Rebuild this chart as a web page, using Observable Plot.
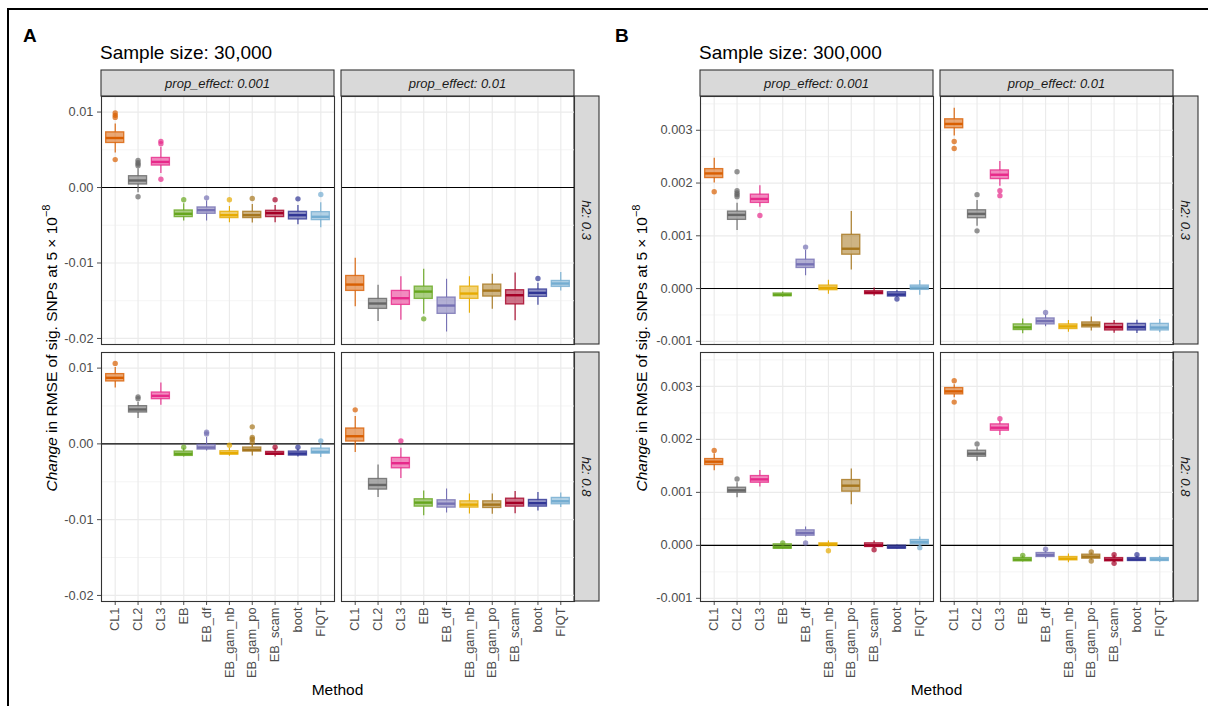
<!DOCTYPE html>
<html><head><meta charset="utf-8">
<script src="https://cdn.jsdelivr.net/npm/d3@7"></script>
<script src="https://cdn.jsdelivr.net/npm/@observablehq/plot@0.6"></script>
<style>
html,body{margin:0;padding:0;background:#fff;}
#root{position:relative;width:1208px;height:706px;overflow:hidden;font-family:"Liberation Sans",Arial,sans-serif;background:#fff;}
#root svg{position:absolute;}
</style></head><body><div id="root"></div>
<script>
// ---------------- data ----------------
const methods = ["CL1","CL2","CL3","EB","EB_df","EB_gam_nb","EB_gam_po","EB_scam","boot","FIQT"];
const methodColors = ["#d95f02","#666666","#e7298a","#66a61e","#7570b3","#e6ab02","#a6761d","#a50026","#313695","#74add1"];
const propEffects = ["prop_effect: 0.001","prop_effect: 0.01"];
const h2Levels = ["h2: 0.3","h2: 0.8"];
const panelTitles = ["Sample size: 30,000","Sample size: 300,000"];
const panelTags = ["A","B"];
const ticksA = [-0.02,-0.01,0,0.01];
const minorA = [-0.015,-0.005,0.005];
const ticksB = [-0.001,0,0.001,0.002,0.003];
const minorB = [-0.0005,0.0005,0.0015,0.0025,0.0035];

// box stats: [lower whisker, q1, median, q3, upper whisker] per method
const A_p001_h03 = [[0.00458,0.00590,0.00656,0.00731,0.00841],[-0.0007,0.0004,0.00093,0.0015,0.0025],[0.00185,0.00291,0.00339,0.00392,0.00533],[-0.00445,-0.00392,-0.00348,-0.00304,-0.00216],[-0.00445,-0.00348,-0.003,-0.00264,-0.0018],[-0.00467,-0.00405,-0.00366,-0.00322,-0.00251],[-0.00471,-0.00405,-0.00366,-0.00322,-0.00225],[-0.00467,-0.00392,-0.00339,-0.00308,-0.00238],[-0.00493,-0.00423,-0.00366,-0.00322,-0.00238],[-0.00533,-0.00432,-0.00388,-0.00326,-0.00203]];
const A_p001_h03_out = [[0.00987,0.00956,0.00929,0.0037],[0.0036,0.0033,0.0031,0.0029,-0.00123],[0.00612,0.00581,0.0011],[-0.00163],[-0.00137],[-0.00163],[-0.00145],[-0.00163],[-0.0015],[-0.00093]];
const A_p01_h03 = [[-0.01581,-0.0137,-0.01286,-0.01172,-0.00938],[-0.01775,-0.01608,-0.01537,-0.01476,-0.01295],[-0.01758,-0.01555,-0.01467,-0.0137,-0.01181],[-0.01678,-0.01476,-0.01379,-0.01313,-0.01084],[-0.01916,-0.01674,-0.01564,-0.01458,-0.01216],[-0.01665,-0.01476,-0.01405,-0.01313,-0.01181],[-0.01612,-0.01445,-0.01366,-0.01286,-0.0115],[-0.01766,-0.01549,-0.01427,-0.01361,-0.01132],[-0.01559,-0.01449,-0.01396,-0.01351,-0.01268],[-0.0137,-0.01317,-0.01272,-0.01238,-0.01127]];
const A_p01_h03_out = [[],[],[],[-0.0174],[],[],[],[],[-0.01206],[]];
const A_p001_h08 = [[0.00736,0.00824,0.00872,0.00921,0.01009],[0.00335,0.00414,0.00454,0.00498,0.00546],[0.00511,0.0059,0.00634,0.00678,0.00802],[-0.00172,-0.00159,-0.00132,-0.00101,-0.00057],[-0.00093,-0.00075,-0.00048,-0.00013,0.00084],[-0.00163,-0.00141,-0.00123,-0.00097,-0.00062],[-0.00159,-0.00101,-0.00079,-0.00048,-0.00004],[-0.00172,-0.00145,-0.00128,-0.00106,-0.00062],[-0.00172,-0.00154,-0.00128,-0.00101,-0.0007],[-0.00181,-0.00128,-0.00106,-0.00062,-0.00004]];
const A_p001_h08_out = [[0.01062],[0.00621,0.00595],[],[-0.00044],[0.00154,0.00132],[-0.00018],[0.00225,0.00084,0.00062,0.00018],[-0.00044],[-0.00044],[0.0004]];
const A_p01_h08 = [[-0.00115,0.00031,0.00101,0.00203,0.00361],[-0.00709,-0.00603,-0.00542,-0.00463,-0.00278],[-0.00458,-0.00322,-0.00255,-0.00185,-0.00057],[-0.00947,-0.00828,-0.00775,-0.00731,-0.00621],[-0.00912,-0.00841,-0.00789,-0.00744,-0.00595],[-0.00925,-0.00841,-0.00802,-0.00758,-0.00661],[-0.00929,-0.00846,-0.00802,-0.00758,-0.00661],[-0.00921,-0.00828,-0.00779,-0.00723,-0.0063],[-0.00885,-0.00828,-0.00783,-0.0074,-0.00643],[-0.00841,-0.00797,-0.00757,-0.00713,-0.00647]];
const A_p01_h08_out = [[0.00449],[],[0.0004],[],[],[],[],[],[],[]];
const B_p001_h03 = [[0.002,0.002094,0.002182,0.002264,0.002472],[0.0011,0.001302,0.001396,0.001459,0.001616],[0.001541,0.001623,0.001698,0.00178,0.00195],[-0.000164,-0.000145,-0.00012,-0.000094,-0.000063],[0.000245,0.00039,0.000459,0.000547,0.000723],[-0.000107,-0.000031,0.000013,0.000057,0.000157],[0.000352,0.000642,0.000755,0.001019,0.001459],[-0.000145,-0.000107,-0.000075,-0.00005,0.000013],[-0.00017,-0.000151,-0.000113,-0.00007,-0.000032],[-0.000126,-0.000025,0.000019,0.000057,0.000151]];
const B_p001_h03_out = [[0.001836],[0.002214,0.001855,0.001811,0.00178,0.001742],[0.001384],[],[0.000786],[],[],[],[-0.000197],[]];
const B_p01_h03 = [[0.002893,0.003038,0.00312,0.003208,0.003415],[0.001182,0.001333,0.001415,0.001484,0.001667],[0.001937,0.002075,0.002157,0.002239,0.002409],[-0.000855,-0.000786,-0.000736,-0.000679,-0.000579],[-0.000723,-0.000679,-0.000616,-0.000566,-0.000503],[-0.00083,-0.000767,-0.000717,-0.000679,-0.000604],[-0.000805,-0.000736,-0.000686,-0.000642,-0.000541],[-0.000845,-0.000794,-0.000732,-0.000669,-0.000605],[-0.000851,-0.000794,-0.000732,-0.000669,-0.000599],[-0.000838,-0.000794,-0.00074,-0.000669,-0.000586]];
const B_p01_h03_out = [[0.002786,0.002654],[0.00178,0.001094],[0.001855,0.001761],[],[-0.000453],[],[],[],[],[]];
const B_p001_h08 = [[0.001409,0.001516,0.001579,0.001629,0.00173],[0.000899,0.000994,0.001038,0.001088,0.001182],[0.0011,0.001182,0.001245,0.001308,0.001415],[-0.000075,-0.000063,-0.000038,0.000019,0.000031],[0.000157,0.000182,0.000233,0.000283,0.000346],[-0.000031,-0.000013,0.000019,0.000038,0.000082],[0.000767,0.001013,0.001126,0.001233,0.00144],[-0.000063,-0.000031,0,0.000038,0.000082],[-0.000075,-0.000063,-0.000038,-0.000006,0.000006],[-0.000031,0.000019,0.000063,0.000101,0.000157]];
const B_p001_h08_out = [[0.001792],[0.001252],[],[0.000044],[0.000044],[-0.000101],[],[-0.000082],[],[-0.000044]];
const B_p01_h08 = [[0.002786,0.002849,0.002906,0.002969,0.003031],[0.001585,0.001673,0.00173,0.001786,0.001843],[0.002075,0.002164,0.00222,0.002283,0.002346],[-0.000314,-0.000302,-0.00027,-0.000239,-0.000201],[-0.000252,-0.00022,-0.000182,-0.000145,-0.000113],[-0.000327,-0.000283,-0.000252,-0.00022,-0.000164],[-0.000283,-0.000252,-0.000214,-0.000176,-0.000145],[-0.000329,-0.000302,-0.000272,-0.00024,-0.000189],[-0.000302,-0.000296,-0.000266,-0.00024,-0.000208],[-0.000321,-0.000296,-0.000266,-0.00024,-0.000208]];
const B_p01_h08_out = [[0.003107,0.002704],[0.001912],[0.00239],[-0.000189],[-0.000075],[],[-0.000126,-0.000296],[-0.000178,-0.00034],[-0.000178],[]];

// ---------------- layout ----------------
const root = document.getElementById("root");
const FONT = '"Liberation Sans",Arial,sans-serif';
const panels = [
  {tag: panelTags[0], title: panelTitles[0], tagX: 23, titleX: 100, cols: [101, 341], ylabX: 57,
   domain: [-0.0208, 0.01206], ticks: ticksA, minor: minorA, fmt: d => d.toFixed(2),
   cells: [[A_p001_h03, A_p001_h03_out, A_p01_h03, A_p01_h03_out],[A_p001_h08, A_p001_h08_out, A_p01_h08, A_p01_h08_out]]},
  {tag: panelTags[1], title: panelTitles[1], tagX: 615, titleX: 699, cols: [700, 940], ylabX: 647,
   domain: [-0.00106, 0.00364], ticks: ticksB, minor: minorB, fmt: d => d.toFixed(3),
   cells: [[B_p001_h03, B_p001_h03_out, B_p01_h03, B_p01_h03_out],[B_p001_h08, B_p001_h08_out, B_p01_h08, B_p01_h08_out]]}
];
const PW = 233, rowsTop = [96, 352], rowsH = [248, 249], stripTop = 70, stripH = 26, stripW = 25;

// background decorations
const bg = d3.select(root).append("svg").attr("width",1208).attr("height",706).style("left","0px").style("top","0px")
  .style("font-family", FONT);
bg.append("path").attr("d","M7,9H1208M8,9V706").attr("stroke","#000").attr("stroke-width",2).attr("fill","none");

function cell(stats, outs, p, ci, ri) {
  const rows = stats.map((s,i)=>({method: methods[i], color: methodColors[i], lo:s[0], q1:s[1], med:s[2], q3:s[3], hi:s[4]}));
  const pts = outs.flatMap((arr,i)=>arr.map(v=>({method: methods[i], color: methodColors[i], v})));
  const showY = ci === 0, showX = ri === 1;
  const mL = showY ? 50 : 0, mB = showX ? 100 : 0;
  const h = rowsH[ri];
  const marks = [
    Plot.gridY(p.minor, {stroke:"#f3f3f3", strokeOpacity:1, strokeWidth:0.9}),
    Plot.gridY(p.ticks, {stroke:"#ebebeb", strokeOpacity:1, strokeWidth:1.2}),
    Plot.gridX(methods, {stroke:"#ebebeb", strokeOpacity:1, strokeWidth:1.2}),
    Plot.ruleY([0], {stroke:"#000", strokeWidth:1.1}),
    Plot.ruleX(rows, {x:"method", y1:"q3", y2:"hi", stroke:"color", strokeWidth:1.1}),
    Plot.ruleX(rows, {x:"method", y1:"lo", y2:"q1", stroke:"color", strokeWidth:1.1}),
    Plot.barY(rows, {x:"method", y1:"q1", y2:"q3", fill:"color", fillOpacity:0.55, stroke:"color", strokeOpacity:0.8, strokeWidth:1.3}),
    Plot.tickY(rows, {x:"method", y:"med", stroke:"color", strokeWidth:2.4}),
    Plot.dot(pts, {x:"method", y:"v", fill:"color", fillOpacity:0.7, r:2.7}),
    Plot.frame({stroke:"#333333", strokeWidth:1.1})
  ];
  if (showY) marks.push(Plot.axisY(p.ticks, {tickFormat: p.fmt, tickSize:4, tickPadding:4, label:null, fontSize:12.8, color:"#4d4d4d"}));
  const svg = Plot.plot({
    width: PW + mL, height: h + mB,
    marginLeft: mL, marginRight: 0, marginTop: 0, marginBottom: mB,
    style: {background:"transparent", overflow:"visible", fontFamily: FONT, fontSize:"12.8px", color:"#4d4d4d"},
    x: {type:"band", domain: methods, paddingInner:0.21, paddingOuter:0.205, round:false,
        axis: showX ? "bottom" : null, tickRotate:-90, tickSize:4, tickPadding:2, label:null},
    y: {domain: p.domain, axis: null},
    color: {type:"identity"},
    marks
  });
  svg.style.position = "absolute";
  svg.style.left = (p.cols[ci] - mL) + "px";
  svg.style.top = rowsTop[ri] + "px";
  root.appendChild(svg);
}

panels.forEach(p => {
  bg.append("text").attr("x", p.tagX).attr("y", 42).attr("font-size", 19).attr("font-weight","bold").attr("fill","#000").text(p.tag);
  bg.append("text").attr("x", p.titleX).attr("y", 59).attr("font-size", 19).attr("fill","#000").text(p.title);
  // column strips
  p.cols.forEach((cx, ci) => {
    bg.append("rect").attr("x", cx).attr("y", stripTop).attr("width", PW).attr("height", stripH)
      .attr("fill","#d9d9d9").attr("stroke","#333333").attr("stroke-width",1.1);
    bg.append("text").attr("x", cx + PW/2).attr("y", stripTop + stripH/2).attr("text-anchor","middle")
      .attr("dominant-baseline","central").attr("font-size",13).attr("font-style","italic").attr("fill","#1a1a1a").text(propEffects[ci]);
  });
  // row strips
  const sx = p.cols[1] + PW;
  rowsTop.forEach((ry, ri) => {
    bg.append("rect").attr("x", sx).attr("y", ry).attr("width", stripW).attr("height", rowsH[ri])
      .attr("fill","#d9d9d9").attr("stroke","#333333").attr("stroke-width",1.1);
    bg.append("text").attr("transform", `translate(${sx + stripW/2},${ry + rowsH[ri]/2}) rotate(90)`)
      .attr("text-anchor","middle").attr("dominant-baseline","central").attr("font-size",13)
      .attr("font-style","italic").attr("fill","#1a1a1a").text(h2Levels[ri]);
  });
  // y axis title
  const yt = bg.append("text").attr("transform", `translate(${p.ylabX},348) rotate(-90)`)
    .attr("text-anchor","middle").attr("font-size",15.5).attr("fill","#000");
  yt.append("tspan").attr("font-style","italic").text("Change");
  yt.append("tspan").text(" in RMSE of sig. SNPs at 5 \u00d7 10");
  yt.append("tspan").attr("dy",-7).attr("font-size",11).text("\u22128");
  // x axis title
  bg.append("text").attr("x", (p.cols[0] + p.cols[1] + PW)/2).attr("y", 695).attr("text-anchor","middle")
    .attr("font-size",15.5).attr("fill","#000").text("Method");
  // cells
  for (let ri = 0; ri < 2; ri++) {
    const c = p.cells[ri];
    cell(c[0], c[1], p, 0, ri);
    cell(c[2], c[3], p, 1, ri);
  }
});
</script></body></html>
